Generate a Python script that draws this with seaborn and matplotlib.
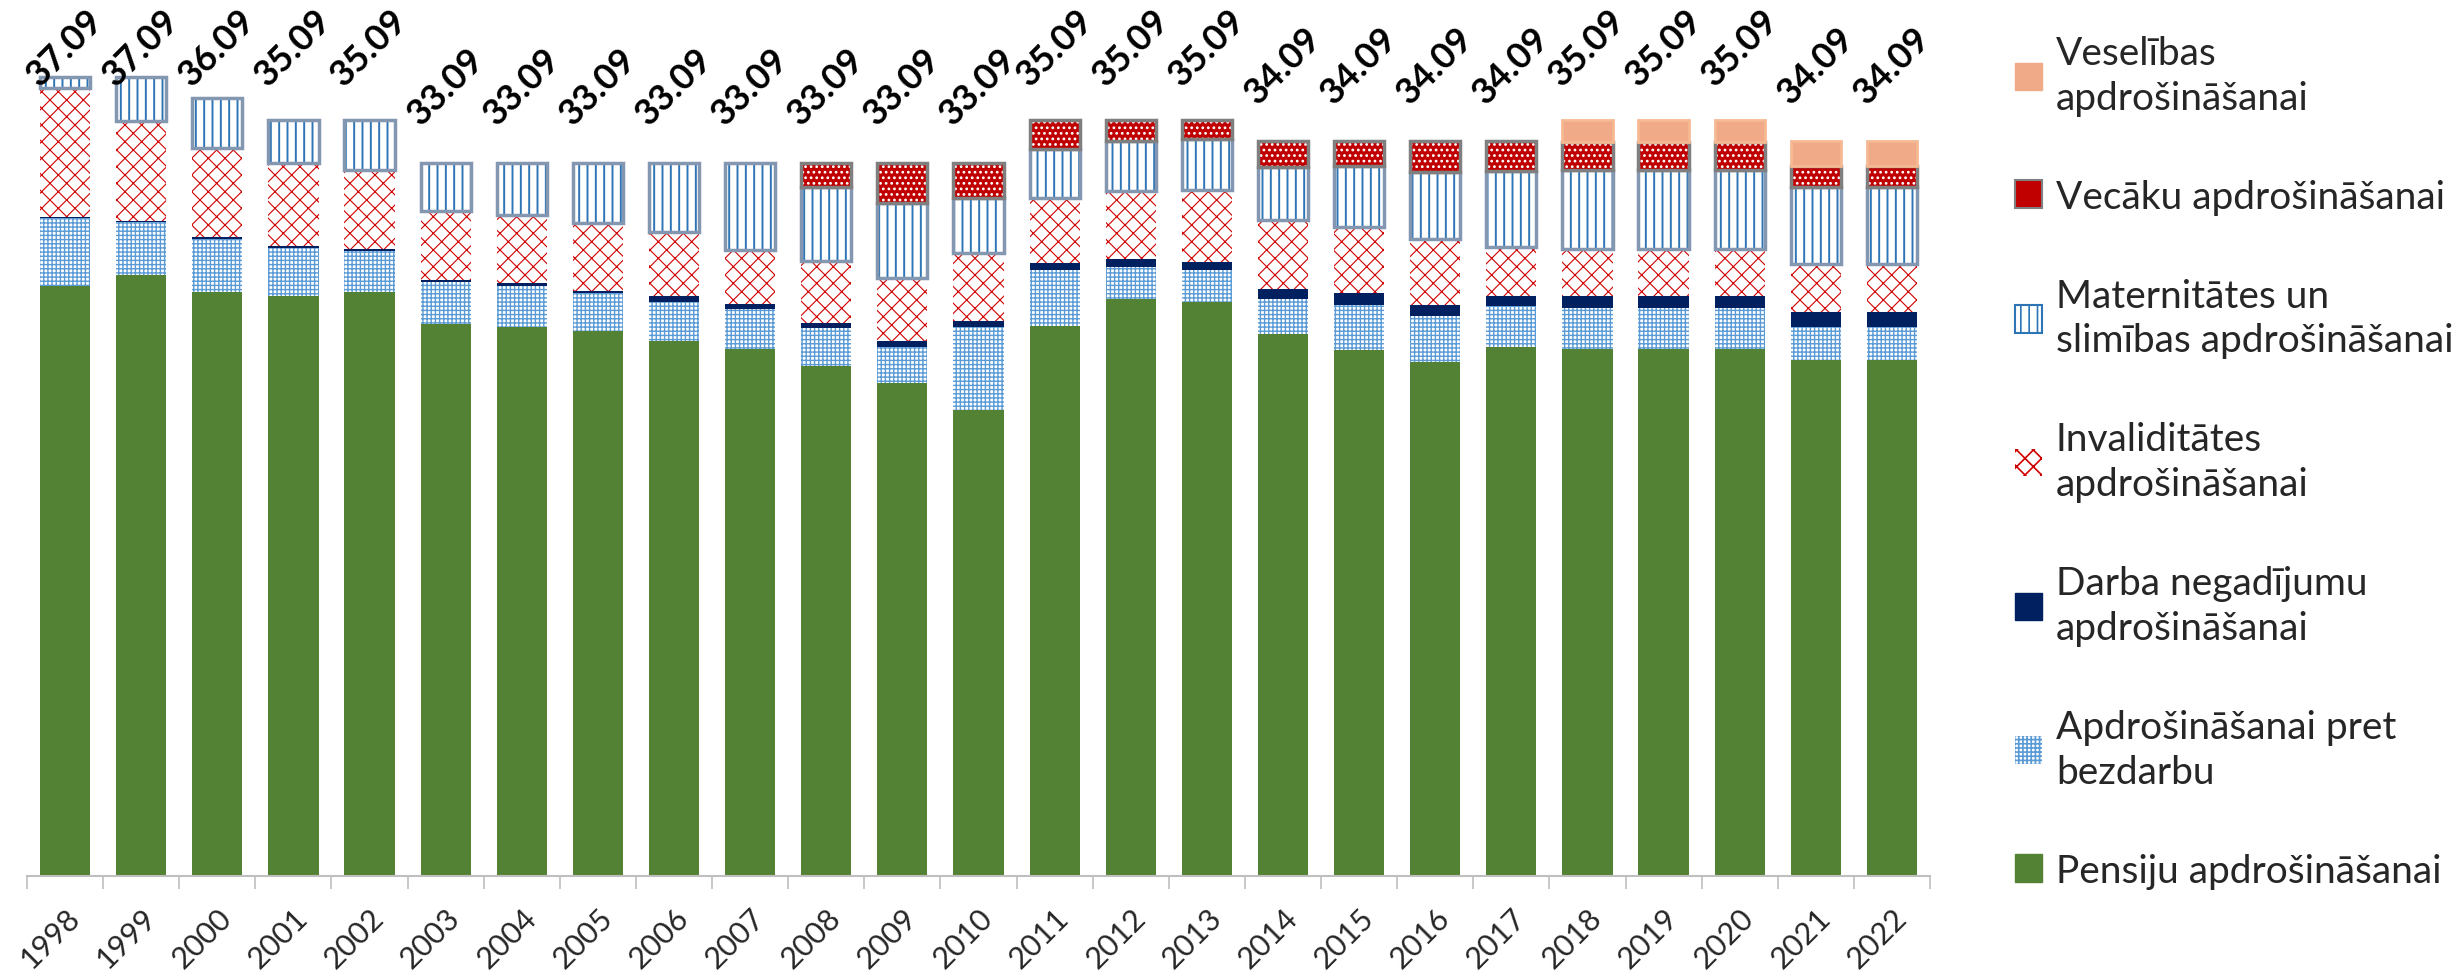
import numpy as np
import seaborn as sns
import matplotlib.pyplot as plt
from matplotlib.patches import Patch

sns.set_theme(style="white")
plt.rcParams['font.family'] = ['Lato', 'DejaVu Sans']
plt.rcParams['hatch.linewidth'] = 1.2

years = [str(y) for y in range(1998, 2023)]

# likmju sadalījums pa apdrošināšanas veidiem (%)
pensiju = [27.36, 27.89, 27.09, 26.90, 27.09, 25.61, 25.49, 25.27, 24.81, 24.47, 23.67, 22.86, 21.64,
           25.54, 26.77, 26.62, 25.14, 24.39, 23.87, 24.53, 24.45, 24.45, 24.45, 23.94, 23.94]
bezdarbu = [3.16, 2.44, 2.45, 2.24, 1.90, 1.94, 1.90, 1.80, 1.83, 1.84, 1.76, 1.70, 3.85,
            2.58, 1.48, 1.50, 1.63, 2.12, 2.10, 1.91, 1.91, 1.91, 1.91, 1.55, 1.55]
darba = [0.06, 0.06, 0.13, 0.08, 0.11, 0.11, 0.11, 0.09, 0.26, 0.25, 0.22, 0.25, 0.25,
         0.31, 0.39, 0.39, 0.46, 0.53, 0.53, 0.46, 0.54, 0.54, 0.54, 0.67, 0.67]
invaliditates = [5.97, 4.63, 4.11, 3.85, 3.68, 3.21, 3.19, 3.13, 2.97, 2.49, 2.90, 2.94, 3.15,
                 3.02, 3.13, 3.34, 3.21, 3.06, 3.06, 2.27, 2.20, 2.20, 2.20, 2.24, 2.24]
maternitates = [0.54, 2.07, 2.31, 2.02, 2.31, 2.22, 2.40, 2.80, 3.22, 4.04, 3.44, 3.46, 2.56,
                2.29, 2.35, 2.35, 2.45, 2.86, 3.09, 3.56, 3.66, 3.66, 3.66, 3.56, 3.56]
vecaku = [0, 0, 0, 0, 0, 0, 0, 0, 0, 0, 1.10, 1.88, 1.64,
          1.35, 0.97, 0.89, 1.20, 1.13, 1.44, 1.36, 1.29, 1.29, 1.29, 1.00, 1.00]
veselibas = [0, 0, 0, 0, 0, 0, 0, 0, 0, 0, 0, 0, 0,
             0, 0, 0, 0, 0, 0, 0, 1.04, 1.04, 1.04, 1.13, 1.13]
kopa = [37.09, 37.09, 36.09, 35.09, 35.09, 33.09, 33.09, 33.09, 33.09, 33.09, 33.09, 33.09, 33.09,
        35.09, 35.09, 35.09, 34.09, 34.09, 34.09, 34.09, 35.09, 35.09, 35.09, 34.09, 34.09]

labels = ["Pensiju apdrošināšanai", "Apdrošināšanai pret\nbezdarbu", "Darba negadījumu\napdrošināšanai",
          "Invaliditātes\napdrošināšanai", "Maternitātes un\nslimības apdrošināšanai",
          "Vecāku apdrošināšanai", "Veselības\napdrošināšanai"]

fig = plt.figure(figsize=(24.58, 9.78), dpi=100)
ax = fig.add_axes([27 / 2458, 101 / 978, 1903 / 2458, 857 / 978])

bar_w = 0.66


def stacked(values, bottom, hatch_lw=1.2, **kws):
    v = np.array(values, dtype=float)
    b = np.array(bottom, dtype=float)
    keep = v > 0
    with plt.rc_context({'hatch.linewidth': hatch_lw}):
        sns.barplot(x=np.array(years)[keep], y=v[keep], bottom=b[keep], order=years,
                    width=bar_w, saturation=1, ax=ax, **kws)


b = np.zeros(len(years))
stacked(pensiju, b, color="#548235", linewidth=0)
b = b + np.array(pensiju)
stacked(bezdarbu, b, hatch_lw=1.0, color="white", edgecolor="#5B9BD5", hatch="++++", linewidth=0)
b = b + np.array(bezdarbu)
stacked(darba, b, color="#002060", linewidth=0)
b = b + np.array(darba)
stacked(invaliditates, b, hatch_lw=0.8, color="white", edgecolor="#D00000", hatch="xx", linewidth=0)
b = b + np.array(invaliditates)
stacked(maternitates, b, hatch_lw=1.4, color="white", edgecolor="#2E75B6", hatch="||", linewidth=0)
stacked(maternitates, b, color="#8497B0", fill=False, linewidth=2.5)
b = b + np.array(maternitates)
stacked(vecaku, b, color="#C00000", edgecolor="white", hatch="...", linewidth=0)
stacked(vecaku, b, color="#7F7F7F", fill=False, linewidth=2.5)
b = b + np.array(vecaku)
stacked(veselibas, b, color="#F1AA88", linewidth=2, edgecolor="#F5B994")

# kopējās likmes virs stabiņiem
for i, t in enumerate(kopa):
    ax.text(i, min(t + 1.5, 36.4), f"{t:.2f}", rotation=45, ha="center", va="bottom",
            fontsize=26, fontweight="bold", color="black")

ax.set_xlim(-0.5, len(years) - 0.5)
ax.set_ylim(0, 857 / 21.55)
ax.set_xlabel("")
ax.set_ylabel("")
ax.set_yticks([])
for s in ["top", "right", "left"]:
    ax.spines[s].set_visible(False)
ax.spines["bottom"].set_color("#BFBFBF")
ax.spines["bottom"].set_linewidth(1.5)

ax.set_xticks(np.arange(-0.5, len(years)), minor=True)
ax.tick_params(axis="x", which="minor", length=9, width=1.2, color="#BFBFBF", direction="out", bottom=True)
ax.tick_params(axis="x", which="major", length=0, pad=19, labelsize=22)
plt.setp(ax.get_xticklabels(), rotation=45, ha="right", rotation_mode="anchor")

handles = [
    Patch(facecolor="#548235", edgecolor="#548235", label=labels[0]),
    Patch(facecolor="white", edgecolor="#5B9BD5", hatch="++++", linewidth=0, label=labels[1]),
    Patch(facecolor="#002060", edgecolor="#002060", label=labels[2]),
    Patch(facecolor="white", edgecolor="#D00000", hatch="xx", linewidth=0, label=labels[3]),
    Patch(facecolor="white", edgecolor="#2E75B6", hatch="||", linewidth=1.5, label=labels[4]),
    Patch(facecolor="#C00000", edgecolor="#7F7F7F", linewidth=1.5, label=labels[5]),
    Patch(facecolor="#F1AA88", edgecolor="#F1AA88", label=labels[6]),
]
leg = ax.legend(handles=handles[::-1], loc="upper left", bbox_to_anchor=(2015 / 2458, 1 - 36 / 978),
                bbox_transform=fig.transFigure, frameon=False, fontsize=28, borderaxespad=0, borderpad=0,
                handlelength=0.7, handleheight=0.7, handletextpad=0.35, labelspacing=1.62)
for t in leg.get_texts():
    t.set_linespacing(1.3)

fig.savefig("out.png", dpi=100)
